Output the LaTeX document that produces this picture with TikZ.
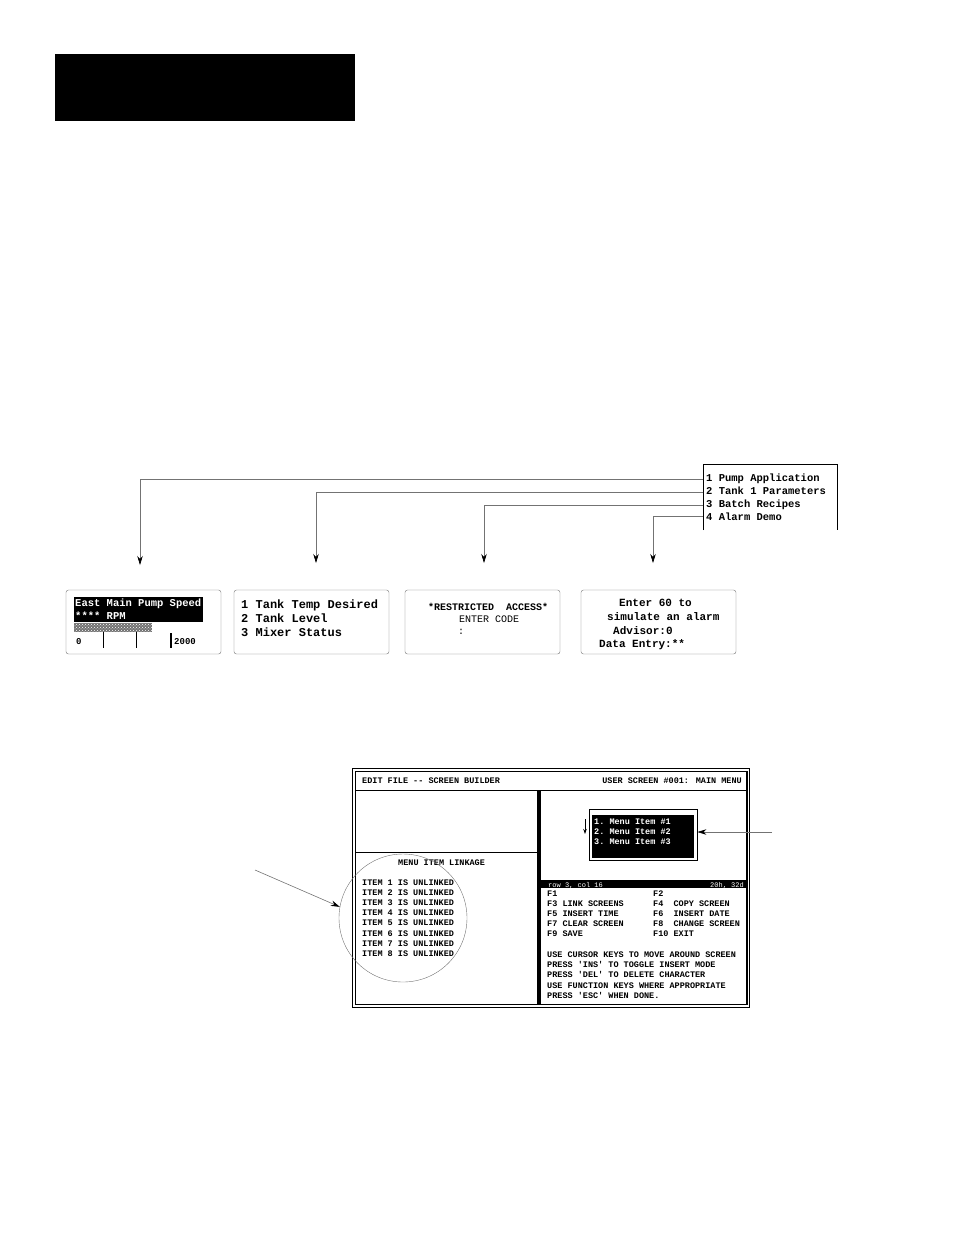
\documentclass[tikz,border=0pt]{standalone}
\usepackage{fontspec}
\newfontfamily\lcdfont{Liberation Mono}
\usetikzlibrary{arrows.meta,patterns}
\tikzset{
  lcd/.style={font=\lcdfont\bfseries\fontsize{#1}{#1}\selectfont,inner sep=0pt,anchor=west,text height=0.62em,text depth=0pt},
  lcd/.default=8.5,
  thin lcd/.style={lcd=#1,font=\lcdfont\fontsize{#1}{#1}\selectfont},
  scrbox/.style={draw=black!55,rounded corners=2.5pt,minimum width=155pt,minimum height=64pt,inner sep=0pt},
  link/.style={-{Stealth[length=9pt,width=5.5pt,color=black]},draw=black!55,line width=0.6pt}
}
\begin{document}
\begin{tikzpicture}[x=1pt,y=-1pt]
\useasboundingbox (0,0) rectangle (954,1235);
% title bar
\fill (55,54) rectangle (355,121);
% main menu screen
\draw (703,530)--(703,464)--(837,464)--(837,530);
\node[lcd=10.5] (m1) at (706,478) {1 Pump Application};
\node[lcd=10.5] (m2) at (706,491) {2 Tank 1 Parameters};
\node[lcd=10.5] (m3) at (706,504) {3 Batch Recipes};
\node[lcd=10.5] (m4) at (706,517) {4 Alarm Demo};
\coordinate (p1) at (703,479); \coordinate (p2) at (703,492);
\coordinate (p3) at (703,505); \coordinate (p4) at (703,516);
\coordinate (t1) at (140,565); \coordinate (t2) at (316,563);
\coordinate (t3) at (484,563); \coordinate (t4) at (653,563);
\draw[link] (p1) -| (t1);
\draw[link] (p2) -| (t2);
\draw[link] (p3) -| (t3);
\draw[link] (p4) -| (t4);
% linked screens
\node[scrbox] (s1) at (143.5,622) {};
\node[scrbox] (s2) at (311.5,622) {};
\node[scrbox] (s3) at (482.5,622) {};
\node[scrbox] (s4) at (658.5,622) {};
\fill (74,597) rectangle (203,622);
\node[lcd=10.5,text=white] (e1) at (75,603) {East Main Pump Speed};
\node[lcd=10.5,text=white] (e2) at (75,616) {**** RPM};
\fill[black!55] (74,623) rectangle (152,632);
\fill[pattern=crosshatch dots,pattern color=white] (74,623) rectangle (152,632);
\node[lcd=9] (e3) at (76,641) {0};
\draw[line width=1pt] (103,632)--(103,648) (136,632)--(136,648);
\draw[line width=2pt] (171,633)--(171,648);
\node[lcd=9] (e4) at (174,641) {2000};
\node[lcd=12] (k1) at (241,605) {1 Tank Temp Desired};
\node[lcd=12] (k2) at (241,619) {2 Tank Level};
\node[lcd=12] (k3) at (241,633) {3 Mixer Status};
\node[lcd=10] (r1) at (428,607) {*RESTRICTED\ \ ACCESS*};
\node[thin lcd=10] (r2) at (459,619) {ENTER CODE};
\node[thin lcd=10] (r3) at (458,631) {:};
\node[lcd=11] (a1) at (619,603) {Enter 60 to};
\node[lcd=11] (a2) at (607,617) {simulate an alarm};
\node[lcd=11] (a3) at (613,631) {Advisor:0};
\node[lcd=11] (a4) at (599,644) {Data Entry:**};
% screen builder
\draw[line width=1pt] (352,768) rectangle (749,1007);
\draw[line width=0.8pt] (355,771) rectangle (747,1004);
\draw[line width=2pt] (747,771)--(747,1004);
\draw[line width=0.8pt] (355,790)--(747,790);
\draw[line width=3.5pt] (539,790)--(539,1004);
\draw[line width=0.8pt] (355,852)--(537,852);
\node[lcd] (h1) at (362,780) {EDIT FILE -- SCREEN BUILDER};
\node[lcd,anchor=east] (h2) at (742,780) {USER SCREEN \#001: MAIN MENU};
\node[draw,line width=0.8pt,minimum width=108pt,minimum height=51pt,inner sep=0pt] (mbox) at (643,835) {};
\fill (592,815) rectangle (694,858);
\node[lcd,text=white] (i1) at (594,821) {1.\ Menu Item \#1};
\node[lcd,text=white] (i2) at (594,831) {2.\ Menu Item \#2};
\node[lcd,text=white] (i3) at (594,841) {3.\ Menu Item \#3};
\draw[-{Stealth[length=5pt,width=3.5pt]},line width=0.8pt] (585,819)--(585,834);
\node[lcd] (l0) at (398,862) {MENU ITEM LINKAGE};
\foreach \i in {1,...,8}
  \node[lcd] (l\i) at (362,{882+10.2*(\i-1)}) {ITEM \i\ IS UNLINKED};
\node[draw=black!55,circle,minimum size=128pt,inner sep=0pt] (ring) at (403,918) {};
\fill (540,880) rectangle (746,888);
\node[thin lcd=7,text=white] (b1) at (548,884) {row 3, col 16};
\node[thin lcd=7,text=white,anchor=east] (b2) at (744,884) {20h, 32d};
\node[lcd] (f1) at (547,893) {F1};
\node[lcd] (f3) at (547,903) {F3 LINK SCREENS};
\node[lcd] (f5) at (547,913) {F5 INSERT TIME};
\node[lcd] (f7) at (547,923) {F7 CLEAR SCREEN};
\node[lcd] (f9) at (547,933) {F9 SAVE};
\node[lcd] (f2) at (653,893) {F2};
\node[lcd] (f4) at (653,903) {F4\ \ COPY SCREEN};
\node[lcd] (f6) at (653,913) {F6\ \ INSERT DATE};
\node[lcd] (f8) at (653,923) {F8\ \ CHANGE SCREEN};
\node[lcd] (f10) at (653,933) {F10 EXIT};
\node[lcd] (u1) at (547,954) {USE CURSOR KEYS TO MOVE AROUND SCREEN};
\node[lcd] (u2) at (547,964) {PRESS 'INS' TO TOGGLE INSERT MODE};
\node[lcd] (u3) at (547,974) {PRESS 'DEL' TO DELETE CHARACTER};
\node[lcd] (u4) at (547,985) {USE FUNCTION KEYS WHERE APPROPRIATE};
\node[lcd] (u5) at (547,995) {PRESS 'ESC' WHEN DONE.};
% callouts
\coordinate (rp) at (772,832);
\coordinate (lp) at (255,870);
\draw[link] (rp) -- (mbox.east |- rp);
\draw[link] (lp) -- (ring.170);
\end{tikzpicture}
\end{document}
